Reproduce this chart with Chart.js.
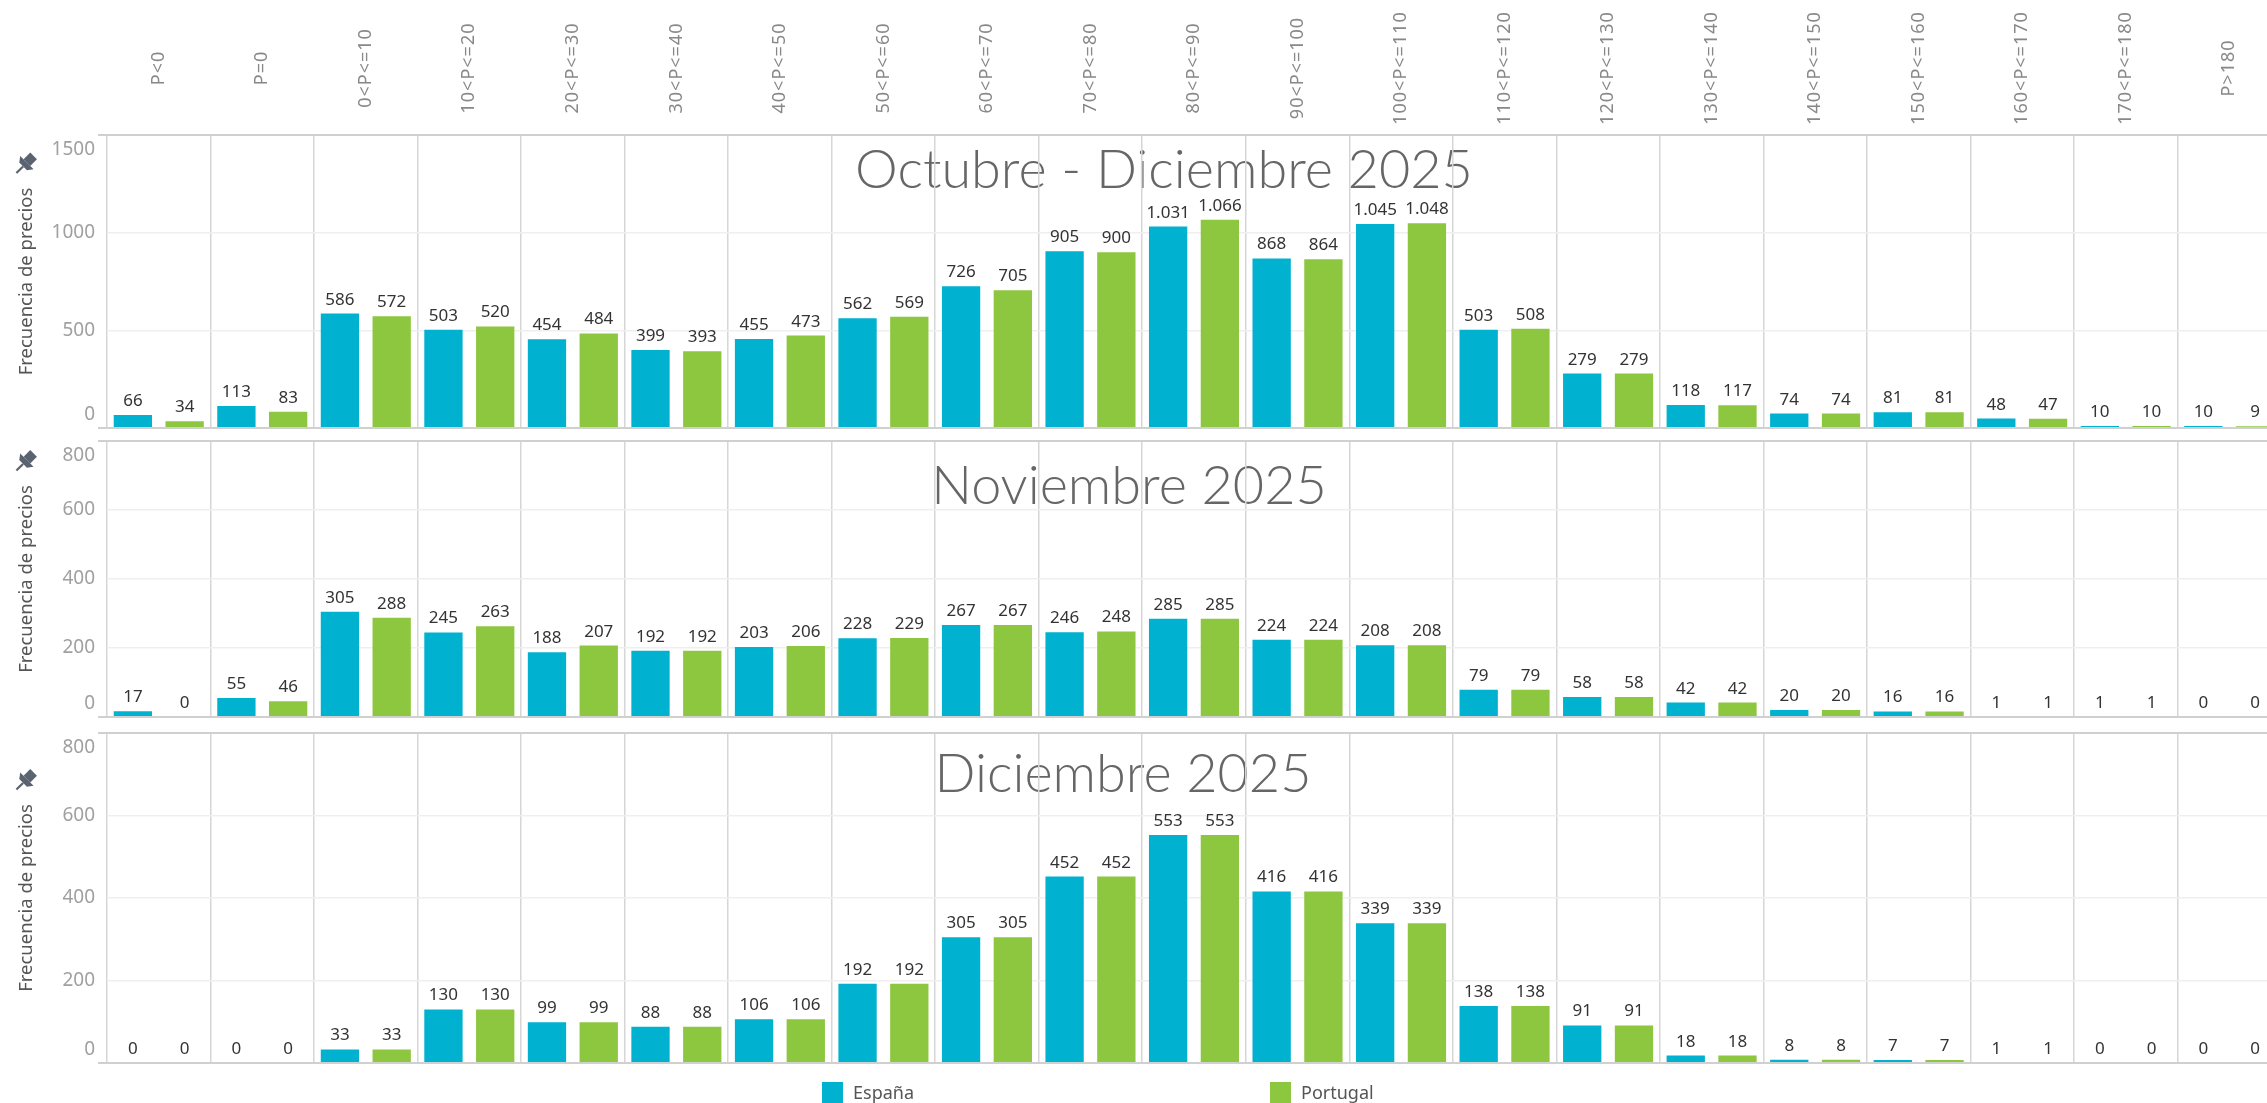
<!DOCTYPE html>
<html lang="es">
<head>
<meta charset="utf-8">
<title>Frecuencia de precios</title>
<script src="https://cdn.jsdelivr.net/npm/chart.js@4.4.1/dist/chart.umd.min.js"></script>
<style>
  html, body { margin: 0; padding: 0; background: #fff; overflow: hidden; }
  #wrap { position: relative; width: 2267px; height: 1103px; overflow: hidden; }
  canvas { position: absolute; left: 0; }
  .legend { position: absolute; top: 1082px; font: 18px "Noto Sans", sans-serif; line-height: 21px; color: #555; white-space: nowrap; }
  .legend .sw { display: inline-block; width: 21px; height: 21px; vertical-align: top; margin-right: 10px; }
</style>
</head>
<body>
<div id="wrap">
  <canvas id="c1" width="2281" height="436" style="top:0"></canvas>
  <canvas id="c2" width="2281" height="285" style="top:437px"></canvas>
  <canvas id="c3" width="2281" height="378" style="top:725px"></canvas>
  <div class="legend" style="left:822px"><span class="sw" style="background:#00b1d0"></span>España</div>
  <div class="legend" style="left:1270px"><span class="sw" style="background:#8dc63f"></span>Portugal</div>
</div>
<script>
// Tramos de precio (€/MWh)
const categories = ['P<0', 'P=0', '0<P<=10', '10<P<=20', '20<P<=30', '30<P<=40', '40<P<=50',
  '50<P<=60', '60<P<=70', '70<P<=80', '80<P<=90', '90<P<=100', '100<P<=110', '110<P<=120',
  '120<P<=130', '130<P<=140', '140<P<=150', '150<P<=160', '160<P<=170', '170<P<=180', 'P>180'];

const espanaOctDic   = [66, 113, 586, 503, 454, 399, 455, 562, 726, 905, 1031, 868, 1045, 503, 279, 118, 74, 81, 48, 10, 10];
const portugalOctDic = [34, 83, 572, 520, 484, 393, 473, 569, 705, 900, 1066, 864, 1048, 508, 279, 117, 74, 81, 47, 10, 9];

const espanaNov   = [17, 55, 305, 245, 188, 192, 203, 228, 267, 246, 285, 224, 208, 79, 58, 42, 20, 16, 1, 1, 0];
const portugalNov = [0, 46, 288, 263, 207, 192, 206, 229, 267, 248, 285, 224, 208, 79, 58, 42, 20, 16, 1, 1, 0];

const espanaDic   = [0, 0, 33, 130, 99, 88, 106, 192, 305, 452, 553, 416, 339, 138, 91, 18, 8, 7, 1, 0, 0];
const portugalDic = [0, 0, 33, 130, 99, 88, 106, 192, 305, 452, 553, 416, 339, 138, 91, 18, 8, 7, 1, 0, 0];

const ticksOctDic = [0, 500, 1000, 1500];
const ticksMes = [0, 200, 400, 600, 800];

const panelTitles = ['Octubre - Diciembre 2025', 'Noviembre 2025', 'Diciembre 2025'];

const BLUE = '#00b1d0';
const GREEN = '#8dc63f';

function fmt(v) {
  return String(v).replace(/\B(?=(\d{3})+(?!\d))/g, '.');
}

function drawPin(ctx, x, y) {
  ctx.save();
  ctx.translate(x, y);
  ctx.rotate(Math.PI / 4);
  ctx.scale(1.35, 1.35);
  ctx.fillStyle = '#5b6370';
  ctx.fillRect(-3.5, -9, 7, 7);
  ctx.beginPath();
  ctx.moveTo(-7, -2); ctx.lineTo(7, -2); ctx.lineTo(4, 2); ctx.lineTo(-4, 2);
  ctx.closePath();
  ctx.fill();
  ctx.fillRect(-0.8, 2, 1.6, 7);
  ctx.restore();
}

function makePanel(id, esp, por, yTicks, pad, title, titleX, titleY, showHeader) {
  const decor = {
    id: 'decor',
    beforeDraw(chart) {
      const ctx = chart.ctx;
      ctx.save();
      ctx.font = '300 54px Lato';
      ctx.fillStyle = '#666';
      ctx.textAlign = 'center';
      ctx.textBaseline = 'alphabetic';
      ctx.fillText(title, titleX, titleY);
      ctx.restore();
    },
    afterDatasetsDraw(chart) {
      const ctx = chart.ctx;
      const area = chart.chartArea;
      const xs = chart.scales.x;
      const ys = chart.scales.y;
      ctx.save();

      // marco superior e inferior del panel
      ctx.strokeStyle = '#d0d0d0';
      ctx.lineWidth = 2;
      ctx.beginPath();
      ctx.moveTo(98, area.top); ctx.lineTo(chart.width, area.top);
      ctx.moveTo(98, area.bottom); ctx.lineTo(chart.width, area.bottom);
      ctx.stroke();

      // etiquetas de valor
      ctx.font = '17px "Noto Sans"';
      ctx.fillStyle = '#333';
      ctx.textAlign = 'center';
      ctx.textBaseline = 'alphabetic';
      chart.data.datasets.forEach((ds, di) => {
        chart.getDatasetMeta(di).data.forEach((bar, i) => {
          ctx.fillText(fmt(ds.data[i]), bar.x, bar.y - 9);
        });
      });

      // etiquetas del eje Y (dentro del panel, como Tableau)
      ctx.font = '19px "Noto Sans"';
      ctx.fillStyle = '#a0a0a0';
      ctx.textAlign = 'right';
      ctx.textBaseline = 'middle';
      yTicks.forEach(v => {
        let py = ys.getPixelForValue(v);
        py = Math.min(Math.max(py, area.top + 15), area.bottom - 13);
        ctx.fillText(String(v), 95, py);
      });

      // chincheta
      drawPin(ctx, 25, (area.top + area.bottom) / 2 - 117);

      // cabecera con los tramos
      if (showHeader) {
        ctx.font = '18px "Noto Sans"';
        ctx.letterSpacing = '1px';
        ctx.fillStyle = '#888';
        ctx.textAlign = 'center';
        ctx.textBaseline = 'middle';
        categories.forEach((c, i) => {
          ctx.save();
          ctx.translate(xs.getPixelForValue(i), 68);
          ctx.rotate(-Math.PI / 2);
          ctx.fillText(c, 0, 0);
          ctx.restore();
        });
      }
      ctx.restore();
    }
  };

  return new Chart(document.getElementById(id), {
    type: 'bar',
    data: {
      labels: categories,
      datasets: [{
        label: 'España',
        data: esp,
        backgroundColor: BLUE,
        categoryPercentage: 1.0,
        barPercentage: 0.74
      }, {
        label: 'Portugal',
        data: por,
        backgroundColor: GREEN,
        categoryPercentage: 1.0,
        barPercentage: 0.74
      }]
    },
    options: {
      responsive: false,
      animation: false,
      events: [],
      layout: { padding: { top: pad[0], bottom: pad[1], left: 0, right: 0 } },
      plugins: {
        legend: { display: false },
        tooltip: { enabled: false }
      },
      scales: {
        x: {
          ticks: { display: false, autoSkip: false },
          grid: { color: '#d6d6d6', lineWidth: 1.5, offset: true, drawTicks: false },
          border: { display: false },
          afterFit: s => { s.height = 0; }
        },
        y: {
          min: 0,
          max: yTicks[yTicks.length - 1],
          ticks: { display: false, stepSize: yTicks[1] },
          grid: { color: '#efefef', lineWidth: 1.5, drawTicks: false },
          border: { display: false },
          title: {
            display: true,
            text: 'Frecuencia de precios',
            color: '#555',
            font: { family: 'Noto Sans', size: 18.5 },
            padding: { top: 16, bottom: 0 }
          },
          afterFit: s => { s.width = 107; }
        }
      }
    },
    plugins: [decor]
  });
}

makePanel('c1', espanaOctDic, portugalOctDic, ticksOctDic, [135, 8], panelTitles[0], 1164, 188, true);
makePanel('c2', espanaNov, portugalNov, ticksMes, [4, 5], panelTitles[1], 1129, 67, false);
makePanel('c3', espanaDic, portugalDic, ticksMes, [8, 40], panelTitles[2], 1123, 67, false);
</script>
</body>
</html>
